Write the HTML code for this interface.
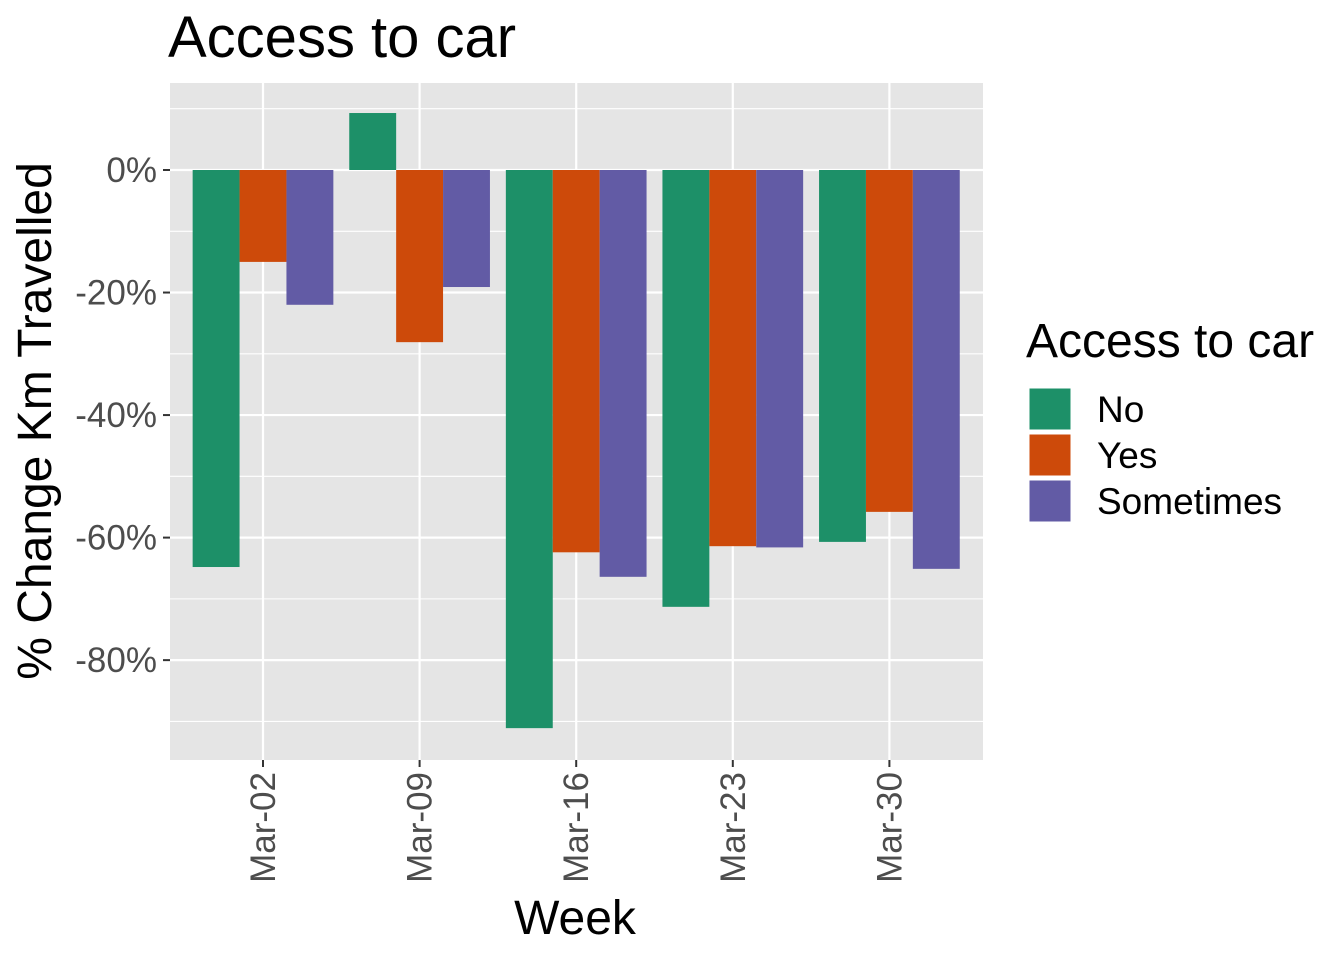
<!DOCTYPE html>
<html><head><meta charset="utf-8"><style>
body{margin:0;background:#fff}
svg text{font-family:"Liberation Sans",Arial,sans-serif}
</style></head><body>
<svg id="chart" width="1344" height="960" xmlns="http://www.w3.org/2000/svg">
<text x="168" y="57" font-size="58" fill="#000">Access to car</text>
<rect x="170" y="83" width="813" height="677" fill="#E5E5E5"/>
<g id="grid"></g>
<g id="bars"></g>
<g id="yticks"></g>
<g id="xticks"></g>
<text transform="translate(51,421) rotate(-90)" text-anchor="middle" font-size="48" fill="#000">% Change Km Travelled</text>
<text x="575" y="934" text-anchor="middle" font-size="48" fill="#000">Week</text>
<g>
<text x="1026" y="357" font-size="48" fill="#000">Access to car</text>
<g id="legend-items"></g>
</g>
</svg>
<script>
const categories=["Mar-02","Mar-09","Mar-16","Mar-23","Mar-30"];
const seriesNames=["No","Yes","Sometimes"];
const noValues=[-64.8,9.3,-91.1,-71.3,-60.7];
const yesValues=[-15.0,-28.1,-62.4,-61.4,-55.8];
const sometimesValues=[-22.0,-19.1,-66.4,-61.6,-65.1];
const yTickValues=[0,-20,-40,-60,-80];
const yTickLabels=["0%","-20%","-40%","-60%","-80%"];
const colors=["#1D9068","#CD4A0A","#625BA5"];
const series=[noValues,yesValues,sometimesValues];
const NS="http://www.w3.org/2000/svg";
const yMin=-96.3,yMax=14.2,pTop=83,pBot=760;
function y(v){return pTop+(yMax-v)/(yMax-yMin)*(pBot-pTop);}
const x0=263,step=156.6,bw=46.9;
function x(i){return x0+i*step;}
function mk(tag,attrs,parent){const e=document.createElementNS(NS,tag);for(const k in attrs)e.setAttribute(k,attrs[k]);parent.appendChild(e);return e;}
const grid=document.getElementById('grid');
for(let v=10;v>yMin;v-=10){
  const l=mk('line',{x1:170,x2:983,y1:y(v),y2:y(v),stroke:'#fff','stroke-width':v%20===0?2.2:1.1},grid);
  
  
}
categories.forEach((c,i)=>{
  const l=mk('line',{x1:x(i),x2:x(i),y1:83,y2:760,stroke:'#fff','stroke-width':2.2},grid);
  
  
});
const bars=document.getElementById('bars');
categories.forEach((c,i)=>{
  series.forEach((s,j)=>{
    const v=s[i];const cx=x(i)+(j-1)*bw;
    const r=mk('rect',{x:cx-bw/2,y:Math.min(y(v),y(0)),width:bw,height:Math.abs(y(v)-y(0)),fill:colors[j]},bars);
    
    
  });
});
const yt=document.getElementById('yticks');
yTickValues.forEach((v,i)=>{
  mk('line',{x1:163,x2:170,y1:y(v),y2:y(v),stroke:'#333','stroke-width':2},yt);
  const t=mk('text',{x:157,y:y(v)+12,'text-anchor':'end','font-size':35,fill:'#4D4D4D'},yt);
  t.textContent=yTickLabels[i];
  
  
});
const xt=document.getElementById('xticks');
categories.forEach((c,i)=>{
  mk('line',{x1:x(i),x2:x(i),y1:760,y2:767,stroke:'#333','stroke-width':2},xt);
  const t=mk('text',{transform:`translate(${x(i)+12},772) rotate(-90)`,'text-anchor':'end','font-size':35,fill:'#4D4D4D'},xt);
  t.textContent=c;
  
  
});
const lg=document.getElementById('legend-items');
seriesNames.forEach((n,j)=>{
  const yy=388+j*46;
  const r=mk('rect',{x:1029,y:yy,width:42,height:42,fill:colors[j],stroke:'#fff','stroke-width':1},lg);
  
  
  const t=mk('text',{x:1097,y:yy+34,'font-size':37,fill:'#000'},lg);
  t.textContent=n;
  
  
});
</script>
</body></html>
